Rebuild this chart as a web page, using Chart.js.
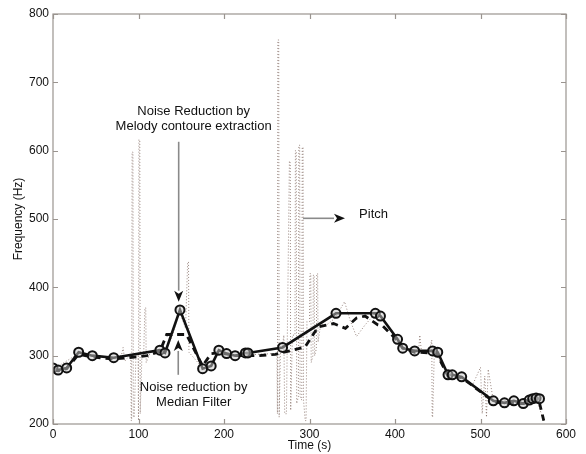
<!DOCTYPE html>
<html>
<head>
<meta charset="utf-8">
<script src="https://cdn.jsdelivr.net/npm/chart.js@4/dist/chart.umd.min.js"></script>
<style>
  html, body { margin: 0; padding: 0; background: #fff; }
  canvas { display: block; }
</style>
</head>
<body>
<canvas id="c" width="586" height="454"></canvas>
<script>
// melody contour (solid with circles)
const melodyTime = [0, 6, 16, 30, 46, 71, 125, 131, 148.5, 175, 185, 194, 203, 213, 225, 228, 268.5, 331, 377, 383, 403, 409, 423, 444, 450, 462, 467, 478, 515, 528, 539, 550, 557, 561, 565, 569];
const melodyFreq = [282, 279, 282, 305, 300, 297, 308, 304, 367, 281, 285, 308, 303, 300, 304, 304, 312, 362, 362, 358, 324, 311, 307, 307, 305, 272, 272, 269, 234, 231, 234, 230, 235, 237, 238, 237];

// median filter (dashed)
const medianTime = [0, 6, 16, 30, 46, 71, 88, 110, 125, 133, 156, 175, 185, 194, 215, 240, 260, 280, 295, 310, 328, 342, 355, 365, 380, 386, 403, 409, 423, 444, 450, 462, 478, 515, 528, 550, 568, 574];
const medianFreq = [280, 278, 281, 302, 298, 295, 297, 300, 306, 331, 331, 285, 303, 304, 300, 300, 302, 308, 313, 342, 347, 340, 355, 358, 345, 343, 322, 311, 305, 304, 300, 270, 268, 233, 230, 230, 236, 205];

// raw pitch (dotted)
const pitchTime = [0, 30, 46, 71, 80, 82, 84, 88, 91, 91.5, 92, 92.5, 93.5, 94, 95, 97, 99.5, 100, 100.5, 101.5, 102, 104, 106, 107.5, 108.5, 109, 114, 125, 131, 140, 148, 155, 157.5, 158.5, 159, 175, 185, 194, 215, 240, 258, 262, 262.5, 263, 264, 264.5, 266, 268, 270, 271, 273, 276.5, 277.5, 278, 280, 283, 283.5, 284.5, 285, 287, 287.5, 288.5, 289, 291, 291.5, 292.5, 293, 295, 296, 297, 300, 300.5, 301.5, 302, 304, 304.5, 305.5, 306, 308, 308.5, 309.5, 310, 313, 320, 330, 341, 348, 355, 365, 377, 386, 403, 409, 420, 428, 429, 431, 440, 443, 443.5, 444, 446, 462, 478, 490, 500, 502, 505, 507, 509, 515, 540, 565, 574];
const pitchFreq = [280, 303, 300, 297, 300, 312, 292, 298, 300, 205, 205, 598, 598, 210, 210, 300, 300, 205, 616, 616, 215, 300, 300, 370, 370, 290, 305, 308, 305, 330, 365, 340, 437, 437, 305, 282, 286, 308, 300, 302, 303, 303, 215, 762, 762, 210, 305, 310, 330, 215, 215, 585, 582, 220, 330, 330, 600, 600, 230, 240, 608, 608, 240, 235, 605, 605, 235, 205, 205, 350, 350, 420, 420, 290, 300, 418, 418, 300, 310, 420, 420, 320, 345, 345, 355, 379, 350, 328, 345, 362, 355, 320, 313, 306, 313, 330, 305, 306, 323, 210, 210, 306, 272, 269, 255, 283, 215, 270, 210, 280, 234, 234, 237, 205];

const xTicks = [0, 100, 200, 300, 400, 500, 600];
const yTicks = [200, 300, 400, 500, 600, 700, 800];

// annotations in data units
const notes = [
  { lines: ['Noise Reduction by', 'Melody contoure extraction'], t: 164.5, f: [658, 635], align: 'center' },
  { lines: ['Noise reduction by', 'Median Filter'], t: 164.5, f: [254, 231], align: 'center' },
  { lines: ['Pitch'], t: 358, f: [506], align: 'left' }
];
const arrows = [
  { from: [147, 613], to: [147, 379] },
  { from: [146.5, 272], to: [146.5, 323] },
  { from: [292.5, 501], to: [341.5, 501] }
];

const pts = (ts, fs) => ts.map((t, i) => ({ x: t, y: fs[i] }));
const FONT = '"Liberation Sans", Arial, Helvetica, sans-serif';
const FRAME = '#9a948f';

const framePlugin = {
  id: 'frame',
  afterDatasetsDraw(chart) {
    const { ctx, chartArea: a, scales: { x, y } } = chart;
    ctx.save();
    ctx.strokeStyle = FRAME;
    ctx.lineWidth = 1.2;
    ctx.strokeRect(a.left, a.top, a.right - a.left, a.bottom - a.top);
    ctx.beginPath();
    xTicks.forEach(v => {
      const px = Math.round(x.getPixelForValue(v)) + 0.5;
      ctx.moveTo(px, a.bottom); ctx.lineTo(px, a.bottom - 5);
      ctx.moveTo(px, a.top); ctx.lineTo(px, a.top + 5);
    });
    yTicks.forEach(v => {
      const py = Math.round(y.getPixelForValue(v)) + 0.5;
      ctx.moveTo(a.left, py); ctx.lineTo(a.left + 5, py);
      ctx.moveTo(a.right, py); ctx.lineTo(a.right - 5, py);
    });
    ctx.stroke();

    // arrows
    arrows.forEach(ar => {
      const x0 = x.getPixelForValue(ar.from[0]), y0 = y.getPixelForValue(ar.from[1]);
      const x1 = x.getPixelForValue(ar.to[0]), y1 = y.getPixelForValue(ar.to[1]);
      const ang = Math.atan2(y1 - y0, x1 - x0);
      const hl = 11, hw = 4.5;
      const bx = x1 - hl * Math.cos(ang), by = y1 - hl * Math.sin(ang);
      ctx.strokeStyle = '#8a8a8a';
      ctx.lineWidth = 1.6;
      ctx.beginPath(); ctx.moveTo(x0, y0); ctx.lineTo(bx, by); ctx.stroke();
      ctx.fillStyle = '#111';
      ctx.beginPath();
      ctx.moveTo(x1, y1);
      ctx.lineTo(bx + hw * Math.sin(ang), by - hw * Math.cos(ang));
      ctx.lineTo(x1 - (hl - 3) * Math.cos(ang), y1 - (hl - 3) * Math.sin(ang));
      ctx.lineTo(bx - hw * Math.sin(ang), by + hw * Math.cos(ang));
      ctx.closePath(); ctx.fill();
    });

    // texts
    ctx.fillStyle = '#111';
    ctx.font = '13px ' + FONT;
    ctx.textBaseline = 'middle';
    notes.forEach(n => {
      ctx.textAlign = n.align;
      n.lines.forEach((s, i) => ctx.fillText(s, x.getPixelForValue(n.t), y.getPixelForValue(n.f[i])));
    });
    ctx.restore();
  }
};

new Chart(document.getElementById('c'), {
  type: 'scatter',
  data: {
    datasets: [
      {
        label: 'Melody contour',
        data: pts(melodyTime, melodyFreq),
        showLine: true,
        borderColor: '#111',
        borderWidth: 2.6,
        pointRadius: 4.5,
        pointBorderWidth: 2,
        pointBorderColor: '#111',
        pointBackgroundColor: 'rgba(200,200,200,0.5)',
        order: 0
      },
      {
        label: 'Median filter',
        data: pts(medianTime, medianFreq),
        showLine: true,
        borderColor: '#111',
        borderWidth: 2.8,
        borderDash: [7, 5],
        pointRadius: 0,
        order: 1
      },
      {
        label: 'Pitch',
        data: pts(pitchTime, pitchFreq),
        showLine: true,
        borderColor: 'rgba(120,95,85,0.75)',
        borderWidth: 1,
        borderDash: [1, 2],
        pointRadius: 0,
        order: 2
      }
    ]
  },
  options: {
    responsive: false,
    animation: false,
    layout: { padding: { top: 14, right: 20, left: 0, bottom: 0 } },
    plugins: { legend: { display: false }, tooltip: { enabled: false } },
    scales: {
      x: {
        type: 'linear',
        min: 0, max: 600,
        afterBuildTicks: s => { s.ticks = xTicks.map(v => ({ value: v })); },
        afterFit: s => { s.height = 30; },
        grid: { display: false, drawTicks: false },
        border: { display: false },
        ticks: { padding: 3, color: '#111', font: { family: FONT, size: 12 }, maxRotation: 0 },
        title: { display: true, text: 'Time (s)', color: '#111', font: { family: FONT, size: 12 }, padding: { top: 0, bottom: 1 } }
      },
      y: {
        type: 'linear',
        min: 200, max: 800,
        afterBuildTicks: s => { s.ticks = yTicks.map(v => ({ value: v })); },
        afterFit: s => { s.width = 53; },
        grid: { display: false, drawTicks: false },
        border: { display: false },
        ticks: { padding: 4, color: '#111', font: { family: FONT, size: 12 } },
        title: { display: true, text: 'Frequency (Hz)', color: '#111', font: { family: FONT, size: 12 }, padding: { top: 11, bottom: 0 } }
      }
    }
  },
  plugins: [framePlugin]
});
</script>
</body>
</html>
